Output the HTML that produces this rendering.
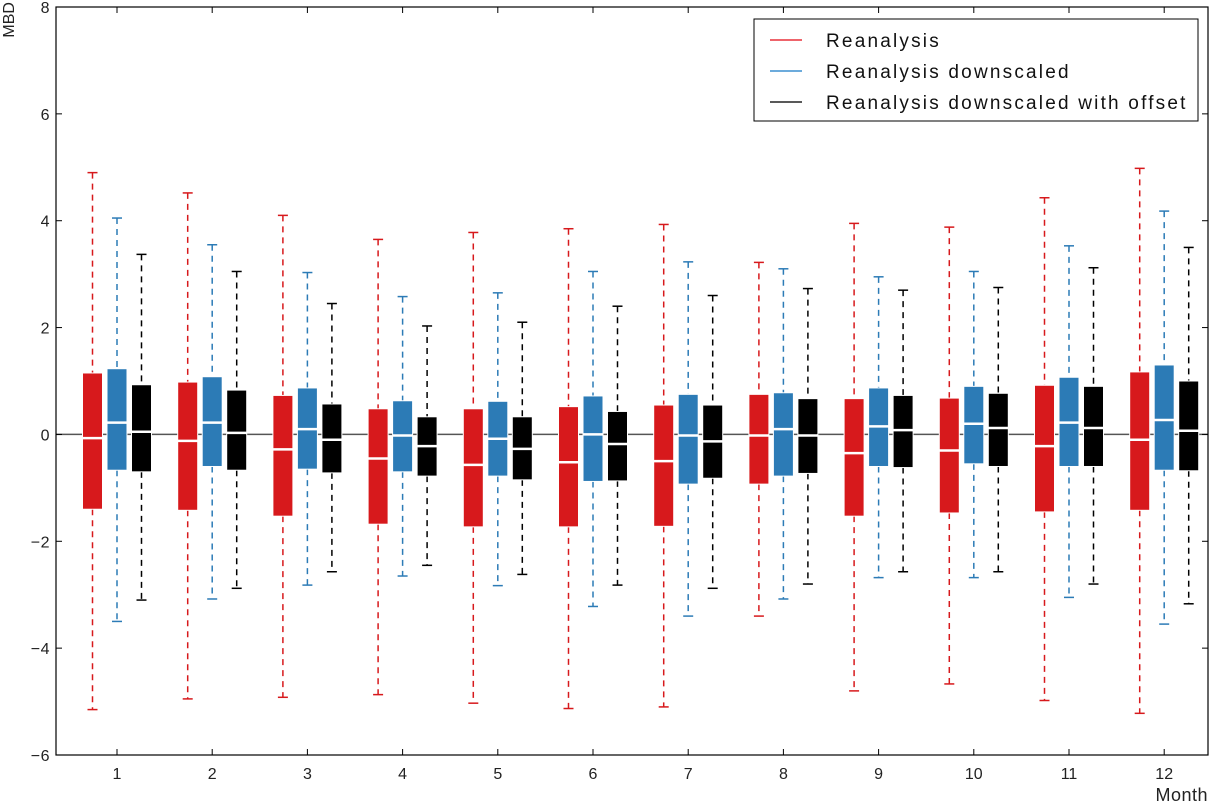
<!DOCTYPE html>
<html><head><meta charset="utf-8"><style>
html,body{margin:0;padding:0;background:#fff;}
svg{display:block;font-family:"Liberation Sans","DejaVu Sans",sans-serif;}
</style></head><body>
<svg id="chart" width="1212" height="803"></svg>
<script>
const months=[1,2,3,4,5,6,7,8,9,10,11,12];
const seriesNames=["Reanalysis","Reanalysis downscaled","Reanalysis downscaled with offset"];
const redWhiskerHigh=[4.9,4.52,4.1,3.65,3.78,3.85,3.93,3.22,3.95,3.88,4.43,4.98];
const redWhiskerLow=[-5.15,-4.95,-4.92,-4.87,-5.03,-5.13,-5.1,-3.4,-4.8,-4.67,-4.98,-5.22];
const redQ3=[1.15,0.98,0.73,0.48,0.48,0.52,0.55,0.75,0.67,0.68,0.92,1.17];
const redMedian=[-0.07,-0.12,-0.28,-0.45,-0.57,-0.52,-0.5,-0.02,-0.35,-0.3,-0.22,-0.1];
const redQ1=[-1.4,-1.42,-1.53,-1.68,-1.73,-1.73,-1.72,-0.93,-1.53,-1.47,-1.45,-1.42];
const blueWhiskerHigh=[4.05,3.55,3.03,2.58,2.65,3.05,3.23,3.1,2.95,3.05,3.53,4.18];
const blueWhiskerLow=[-3.5,-3.08,-2.82,-2.65,-2.83,-3.22,-3.4,-3.08,-2.68,-2.68,-3.05,-3.55];
const blueQ3=[1.23,1.08,0.87,0.63,0.62,0.72,0.75,0.78,0.87,0.9,1.07,1.3];
const blueMedian=[0.22,0.22,0.1,-0.02,-0.08,0.0,-0.02,0.1,0.15,0.2,0.22,0.27];
const blueQ1=[-0.67,-0.6,-0.65,-0.7,-0.78,-0.88,-0.93,-0.78,-0.6,-0.55,-0.6,-0.67];
const blackWhiskerHigh=[3.37,3.05,2.45,2.03,2.1,2.4,2.6,2.73,2.7,2.75,3.12,3.5];
const blackWhiskerLow=[-3.1,-2.88,-2.57,-2.45,-2.62,-2.82,-2.88,-2.8,-2.57,-2.57,-2.8,-3.17];
const blackQ3=[0.93,0.83,0.57,0.33,0.33,0.43,0.55,0.67,0.73,0.77,0.9,1.0];
const blackMedian=[0.05,0.03,-0.1,-0.22,-0.27,-0.18,-0.13,-0.02,0.08,0.12,0.12,0.07];
const blackQ1=[-0.7,-0.67,-0.72,-0.78,-0.85,-0.87,-0.82,-0.73,-0.62,-0.6,-0.6,-0.68];
const yTicks=[-6,-4,-2,0,2,4,6,8];
const yTickLabels=["\u22126","\u22124","\u22122","0","2","4","6","8"];

const svg=document.getElementById('chart');
const NS="http://www.w3.org/2000/svg";
const L=56,R=1208,T=7,B=755;
function y(v){return T+(8-v)*(B-T)/14;}
function x(m){return 117+(m-1)*95.2;}
function mk(tag,attrs,parent){const e=document.createElementNS(NS,tag);for(const k in attrs)e.setAttribute(k,attrs[k]);(parent||svg).appendChild(e);return e;}

const z=mk('line',{x1:L,x2:R,y1:y(0),y2:y(0),stroke:'#555','stroke-width':1.5});



const groups=[
 {c:'#d7191c',off:-24.5,hi:redWhiskerHigh,lo:redWhiskerLow,q3:redQ3,md:redMedian,q1:redQ1,n:'reanalysis'},
 {c:'#2c7bb6',off:0,hi:blueWhiskerHigh,lo:blueWhiskerLow,q3:blueQ3,md:blueMedian,q1:blueQ1,n:'downscaled'},
 {c:'#000000',off:24.5,hi:blackWhiskerHigh,lo:blackWhiskerLow,q3:blackQ3,md:blackMedian,q1:blackQ1,n:'offset'}
];
groups.forEach(gr=>{
 months.forEach((m,i)=>{
  const cx=x(m)+gr.off;
  const g=mk('g',{});
  
  
  mk('line',{x1:cx,x2:cx,y1:y(gr.hi[i]),y2:y(gr.q3[i]),stroke:gr.c,'stroke-width':1.5,'stroke-dasharray':'6,5'},g);
  mk('line',{x1:cx,x2:cx,y1:y(gr.q1[i]),y2:y(gr.lo[i]),stroke:gr.c,'stroke-width':1.5,'stroke-dasharray':'6,5'},g);
  mk('line',{x1:cx-5,x2:cx+5,y1:y(gr.hi[i]),y2:y(gr.hi[i]),stroke:gr.c,'stroke-width':1.5},g);
  mk('line',{x1:cx-5,x2:cx+5,y1:y(gr.lo[i]),y2:y(gr.lo[i]),stroke:gr.c,'stroke-width':1.5},g);
  mk('rect',{x:cx-10,y:y(gr.q3[i]),width:20,height:y(gr.q1[i])-y(gr.q3[i]),fill:gr.c,stroke:'#fff','stroke-width':1},g);
  mk('line',{x1:cx-10,x2:cx+10,y1:y(gr.md[i]),y2:y(gr.md[i]),stroke:'#fff','stroke-width':2.5},g);
 });
});

const fr=mk('rect',{x:L,y:T,width:R-L,height:B-T,fill:'none',stroke:'#000','stroke-width':1.2});



yTicks.forEach((v,i)=>{
 mk('line',{x1:L,x2:L+6,y1:y(v),y2:y(v),stroke:'#000'});
 mk('line',{x1:R,x2:R-6,y1:y(v),y2:y(v),stroke:'#000'});
 const t=mk('text',{x:L-6,y:y(v)+6,'text-anchor':'end','font-size':16,fill:'#222','letter-spacing':0.5});
 t.textContent=yTickLabels[i];
 
 
});
months.forEach(m=>{
 mk('line',{x1:x(m),x2:x(m),y1:B,y2:B-6,stroke:'#000'});
 mk('line',{x1:x(m),x2:x(m),y1:T,y2:T+6,stroke:'#000'});
 const t=mk('text',{x:x(m),y:B+24,'text-anchor':'middle','font-size':16,fill:'#222'});
 t.textContent=m;
 
 
});
const yl=mk('text',{x:0,y:0,'font-size':16,fill:'#222','text-anchor':'end',transform:'translate(14,2) rotate(-90)'});
yl.textContent='MBD';


const xl=mk('text',{x:1208,y:801,'font-size':18,fill:'#222','text-anchor':'end','letter-spacing':0.5});
xl.textContent='Month';



const lg=mk('g',{});


mk('rect',{x:754,y:19,width:444,height:102,fill:'#fff',stroke:'#000','stroke-width':1},lg);
const lc=['#e8303a','#3b8fd0','#222'];
seriesNames.forEach((n,i)=>{
 const ly=40+i*31;
 const e=mk('g',{},lg);
 
 
 mk('line',{x1:770,x2:802,y1:ly,y2:ly,stroke:lc[i],'stroke-width':1.5},e);
 const t=mk('text',{x:826,y:ly+7,'font-size':19,fill:'#111','letter-spacing':2.2},e);
 t.textContent=n;
});
</script>
</body></html>
